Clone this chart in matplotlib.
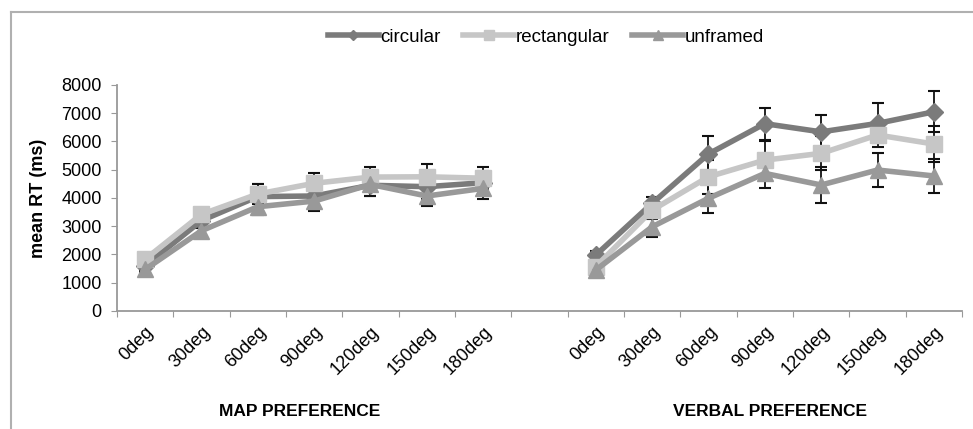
import numpy as np
import matplotlib
matplotlib.use("Agg")
import matplotlib.pyplot as plt
from matplotlib.lines import Line2D

plt.rcParams['font.family'] = ['Liberation Sans', 'DejaVu Sans']

angles = ["0deg", "30deg", "60deg", "90deg", "120deg", "150deg", "180deg"]
groups = ["MAP PREFERENCE", "VERBAL PREFERENCE"]

# mean RT (ms), map preference group
circ_map = [1600, 3200, 4050, 4070, 4450, 4400, 4540]
rect_map = [1830, 3420, 4140, 4520, 4740, 4750, 4700]
unf_map = [1470, 2840, 3690, 3890, 4480, 4070, 4340]
circ_map_err = [150, 250, 450, 350, 390, 450, 400]
rect_map_err = [100, 200, 350, 380, 340, 450, 390]
unf_map_err = [100, 200, 300, 340, 400, 350, 390]

# mean RT (ms), verbal preference group
circ_verb = [1980, 3810, 5560, 6630, 6340, 6640, 7050]
rect_verb = [1570, 3570, 4750, 5340, 5580, 6230, 5910]
unf_verb = [1450, 2980, 3990, 4870, 4460, 4990, 4780]
circ_verb_err = [150, 220, 620, 570, 590, 710, 730]
rect_verb_err = [100, 300, 600, 660, 600, 420, 650]
unf_verb_err = [100, 370, 510, 530, 630, 610, 610]

series = [
    ("circular", circ_map, circ_map_err, circ_verb, circ_verb_err, "#7b7b7b", "D", 9),
    ("rectangular", rect_map, rect_map_err, rect_verb, rect_verb_err, "#c6c6c6", "s", 11),
    ("unframed", unf_map, unf_map_err, unf_verb, unf_verb_err, "#999999", "^", 11),
]

fig = plt.figure(figsize=(9.73, 4.29), dpi=100)
ax = fig.add_axes([0.1202, 0.2751, 0.8685, 0.5268])

x_map = np.arange(len(angles))
x_verb = np.arange(len(angles)) + len(angles) + 1

for name, m, me, v, ve, col, mk, ms in series:
    for xs, ys, es in [(x_map, m, me), (x_verb, v, ve)]:
        ax.errorbar(xs, ys, yerr=es, fmt='none', ecolor='#111111',
                    elinewidth=1.3, capsize=4, capthick=1.5, zorder=1)
        ax.plot(xs, ys, color=col, lw=4, marker=mk, ms=ms, zorder=2)

ax.set_xlim(-0.5, 2 * len(angles) + 0.5)
ax.set_ylim(0, 8000)
ax.set_yticks(np.arange(0, 8001, 1000))
ax.set_xticks(np.arange(-0.5, 2 * len(angles) + 1, 1), minor=False)
ax.set_xticklabels([])
ax.set_xticks(np.concatenate([x_map, x_verb]), minor=True)
ax.set_xticklabels(angles + angles, minor=True, rotation=45, ha='right',
                   rotation_mode='anchor', fontsize=13)
ax.tick_params(axis='x', which='minor', length=0, pad=9)
ax.tick_params(axis='x', which='major', length=4, color='#999999')
ax.tick_params(axis='y', length=4, color='#999999', labelsize=13, pad=7)
for s in ['top', 'right']:
    ax.spines[s].set_visible(False)
for s in ['left', 'bottom']:
    ax.spines[s].set_color('#999999')
    ax.spines[s].set_linewidth(1.3)

ax.set_ylabel("mean RT (ms)", fontsize=13, fontweight='bold', labelpad=10)

fig.text(300 / 973, 1 - 411 / 429, groups[0], fontsize=12.5, fontweight='bold',
         ha='center', va='center')
fig.text(770 / 973, 1 - 411 / 429, groups[1], fontsize=12.5, fontweight='bold',
         ha='center', va='center')

handles = [Line2D([], [], color=col, lw=4, marker=mk, ms=ms * 0.6)
           for name, m, me, v, ve, col, mk, ms in series]
fig.legend(handles, [s[0] for s in series], loc='center',
           bbox_to_anchor=(546 / 973, 1 - 37 / 429), ncol=3, frameon=False,
           fontsize=13.5, handlelength=2.7, columnspacing=1.2, handletextpad=0.1)

# outer chart frame (left and top edges)
fig.add_artist(Line2D([11 / 973, 11 / 973], [0, 1 - 12 / 429],
                      transform=fig.transFigure, color='#b0b0b0', lw=1.5))
fig.add_artist(Line2D([11 / 973, 1], [1 - 12 / 429, 1 - 12 / 429],
                      transform=fig.transFigure, color='#b0b0b0', lw=1.5))

fig.savefig("out.png", dpi=100)
